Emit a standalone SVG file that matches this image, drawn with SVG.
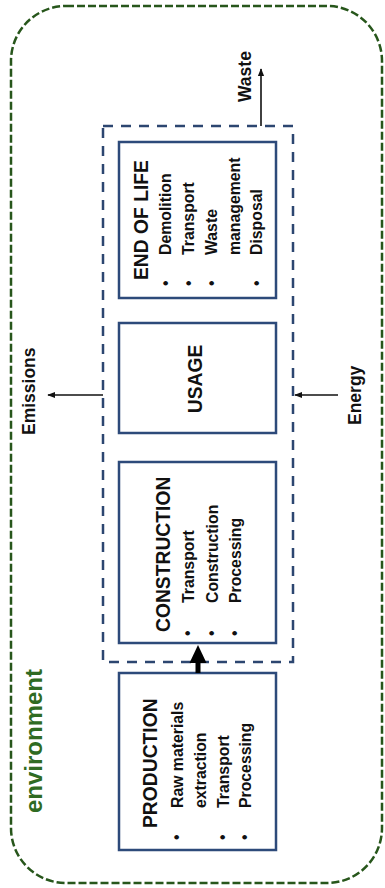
<svg xmlns="http://www.w3.org/2000/svg" width="385" height="888" viewBox="0 0 385 888">
<style>
.box{fill:#fff;stroke:#2d4a7a;stroke-width:2.5}
.hdr{font-family:"Liberation Sans",Arial,sans-serif;font-weight:bold;font-size:19.3px;fill:#111}
.body{font-family:"Liberation Sans",Arial,sans-serif;font-weight:bold;font-size:15.8px;fill:#111}
.lbl{font-family:"Liberation Sans",Arial,sans-serif;font-weight:bold;font-size:17.5px;fill:#111}
.env{font-family:"Liberation Sans",Arial,sans-serif;font-weight:bold;font-size:24px;fill:#2f6b22}
.thin{stroke:#111;stroke-width:1.6;fill:none}
</style>
<defs>
<marker id="ah" viewBox="0 0 10 10" refX="9" refY="5" markerUnits="userSpaceOnUse" markerWidth="8" markerHeight="8" orient="auto">
<path d="M0,1 L10,5 L0,9 Z" fill="#111"/>
</marker>
</defs>
<rect width="385" height="888" fill="#fff"/>
<g id="environment">
<rect x="11" y="6" width="371" height="877" rx="55" ry="55" fill="none" stroke="#27561b" stroke-width="2.5" stroke-dasharray="8 3"/>
<text class="env" transform="translate(42,813) rotate(-90)">environment</text>
</g>
<g id="system-boundary">
<rect x="103" y="126" width="190" height="536" fill="none" stroke="#2c4670" stroke-width="2.5" stroke-dasharray="10 8"/>
</g>
<g id="end-of-life">
<rect class="box" x="119" y="142" width="157" height="156"/>
<text class="hdr" transform="translate(148,280) rotate(-90)">END OF LIFE</text>
<text class="body" transform="translate(171,286) rotate(-90)">•</text>
<text class="body" transform="translate(171,255) rotate(-90)">Demolition</text>
<text class="body" transform="translate(194,286) rotate(-90)">•</text>
<text class="body" transform="translate(194,255) rotate(-90)">Transport</text>
<text class="body" transform="translate(217,286) rotate(-90)">•</text>
<text class="body" transform="translate(217,255) rotate(-90)">Waste</text>
<text class="body" transform="translate(240,255) rotate(-90)">management</text>
<text class="body" transform="translate(262,286) rotate(-90)">•</text>
<text class="body" transform="translate(262,255) rotate(-90)">Disposal</text>
</g>
<g id="usage">
<rect class="box" x="119" y="323" width="157" height="110"/>
<text class="hdr" text-anchor="middle" transform="translate(202,379) rotate(-90)">USAGE</text>
</g>
<g id="construction">
<rect class="box" x="119" y="462" width="157" height="181"/>
<text class="hdr" transform="translate(170,632) rotate(-90)">CONSTRUCTION</text>
<text class="body" transform="translate(193,636) rotate(-90)">•</text>
<text class="body" transform="translate(194,603) rotate(-90)">Transport</text>
<text class="body" transform="translate(217,636) rotate(-90)">•</text>
<text class="body" transform="translate(218,603) rotate(-90)">Construction</text>
<text class="body" transform="translate(240,636) rotate(-90)">•</text>
<text class="body" transform="translate(241,603) rotate(-90)">Processing</text>
</g>
<g id="production">
<rect class="box" x="119" y="673" width="157" height="177"/>
<text class="hdr" transform="translate(157,828) rotate(-90)">PRODUCTION</text>
<text class="body" transform="translate(182,840) rotate(-90)">•</text>
<text class="body" transform="translate(183,808) rotate(-90)">Raw materials</text>
<text class="body" transform="translate(206,808) rotate(-90)">extraction</text>
<text class="body" transform="translate(228,840) rotate(-90)">•</text>
<text class="body" transform="translate(229,808) rotate(-90)">Transport</text>
<text class="body" transform="translate(250,840) rotate(-90)">•</text>
<text class="body" transform="translate(251,808) rotate(-90)">Processing</text>
</g>
<g id="connectors">
<rect x="195.5" y="661" width="5" height="12" fill="#000"/>
<polygon points="198,645 189.5,663 206.5,663" fill="#000"/>
<line class="thin" x1="261" y1="126" x2="261" y2="69" marker-end="url(#ah)"/>
<line class="thin" x1="103" y1="395" x2="48" y2="395" marker-end="url(#ah)"/>
<line class="thin" x1="338" y1="395" x2="295" y2="395" marker-end="url(#ah)"/>
</g>
<g id="labels">
<text class="lbl" transform="translate(251,102) rotate(-90)">Waste</text>
<text class="lbl" transform="translate(35,435) rotate(-90)">Emissions</text>
<text class="lbl" transform="translate(361,425) rotate(-90)">Energy</text>
</g>
</svg>
